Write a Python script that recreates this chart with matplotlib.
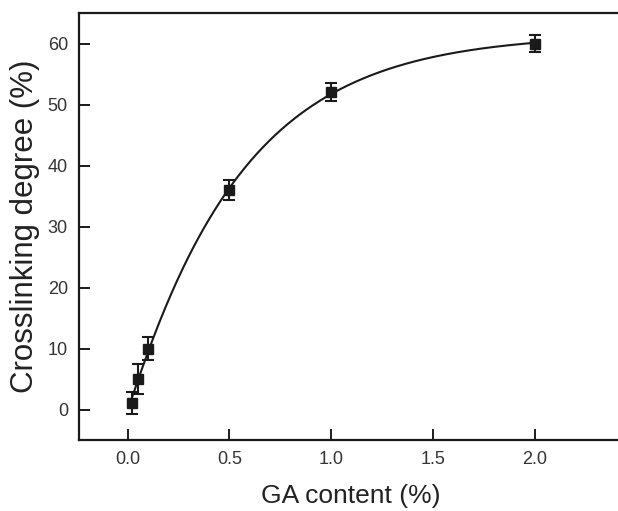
import numpy as np
import matplotlib
matplotlib.use("Agg")
import matplotlib.pyplot as plt

ga_content = [0.02, 0.05, 0.10, 0.50, 1.00, 2.00]
crosslinking = [1.0, 5.0, 10.0, 36.0, 52.0, 60.0]
errors = [1.8, 2.5, 1.9, 1.7, 1.5, 1.4]
x_ticks = [0.0, 0.5, 1.0, 1.5, 2.0]
y_ticks = [0, 10, 20, 30, 40, 50, 60]

plt.rcParams['font.family'] = ['Liberation Sans', 'DejaVu Sans']

fig = plt.figure(figsize=(6.18, 5.11), dpi=100)
W, H = 618, 511
left, right, top, bottom = 79, 622, 13, 440
ax = fig.add_axes([left / W, 1 - bottom / H, (right - left) / W, (bottom - top) / H])

# least-squares saturating fit y = A(1 - exp(-(x/t)^n)) to the data (fitted curve)
x = np.array(ga_content)
y = np.array(crosslinking)
best = None
for n in np.linspace(0.8, 1.6, 81):
    for t in np.linspace(0.2, 1.2, 401):
        basis = 1 - np.exp(-(x / t) ** n)
        A = basis @ y / (basis @ basis)
        res = np.sum((A * basis - y) ** 2)
        if best is None or res < best[0]:
            best = (res, A, t, n)
_, A, t, n = best
xf = np.linspace(x[0], x[-1], 400)
ax.plot(xf, A * (1 - np.exp(-(xf / t) ** n)), color='#1a1a1a', lw=1.5, zorder=2)

ax.errorbar(ga_content, crosslinking, yerr=errors, fmt='s', color='#1a1a1a',
            ms=6.5, capsize=4.5, capthick=1.5, elinewidth=1.5, zorder=3)

ax.set_xlim(-0.24, 2.43)
ax.set_ylim(-5, 65)
ax.set_xticks(x_ticks)
ax.set_yticks(y_ticks)
ax.set_xticklabels([f"{v:.1f}" for v in x_ticks])
ax.tick_params(direction='in', length=8, width=1.4, labelsize=13,
               labelcolor='#333333', color='#1a1a1a')
ax.tick_params(axis='x', pad=8)
ax.tick_params(axis='y', pad=8)
for s in ['left', 'top', 'bottom']:
    ax.spines[s].set_linewidth(1.6)
    ax.spines[s].set_color('#1a1a1a')
ax.spines['right'].set_visible(False)

ax.set_xlabel('GA content (%)', fontsize=19, color='#222222', va='center')
ax.xaxis.set_label_coords(0.5, -(496.5 - bottom) / (bottom - top))
ax.set_ylabel('Crosslinking degree (%)', fontsize=22.5, color='#222222', va='center')
ax.yaxis.set_label_coords(-(left - 25) / (right - left), 0.5)

fig.savefig('out.png', dpi=100)
